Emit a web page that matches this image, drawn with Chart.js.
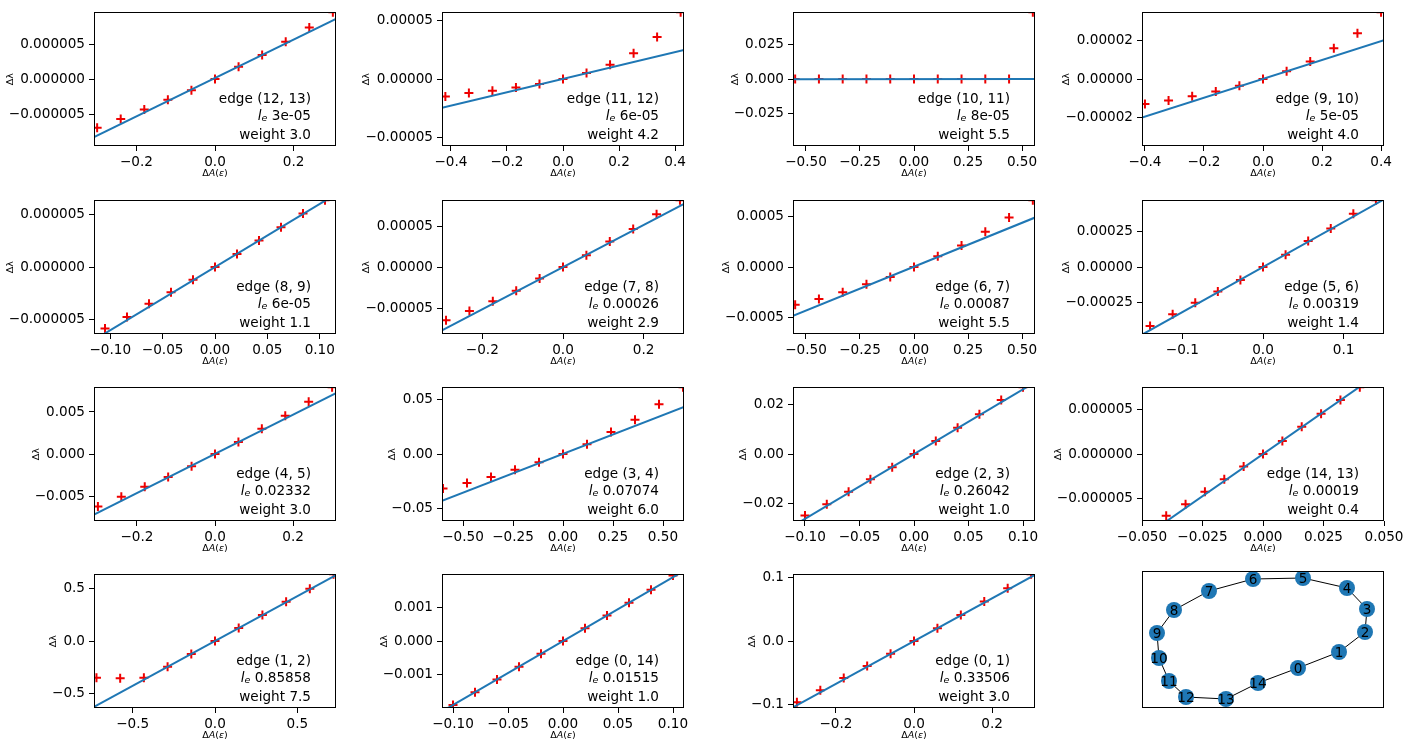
<!DOCTYPE html>
<html>
<head>
<meta charset="utf-8">
<script src="https://cdn.jsdelivr.net/npm/chart.js@4.4.0/dist/chart.umd.min.js"></script>
<style>
  body { margin: 0; background: #fff; width: 1411px; height: 741px; overflow: hidden; position: relative; }
  canvas { position: absolute; }
</style>
</head>
<body>
<script>
// one entry per subplot (grid order, left to right, top to bottom)
const edgeNames = ['(12, 13)', '(11, 12)', '(10, 11)', '(9, 10)', '(8, 9)', '(7, 8)', '(6, 7)', '(5, 6)',
                   '(4, 5)', '(3, 4)', '(2, 3)', '(14, 13)', '(1, 2)', '(0, 14)', '(0, 1)'];
const lengths = ['3e-05', '6e-05', '8e-05', '5e-05', '6e-05', '0.00026', '0.00087', '0.00319',
                 '0.02332', '0.07074', '0.26042', '0.00019', '0.85858', '0.01515', '0.33506'];
const weights = ['3.0', '4.2', '5.5', '4.0', '1.1', '2.9', '5.5', '1.4', '3.0', '6.0', '1.0', '0.4', '7.5', '1.0', '3.0'];

// red "+" measurements
const pointX = [
  [-0.30, -0.24, -0.18, -0.12, -0.06, 0, 0.06, 0.12, 0.18, 0.24, 0.30],
  [-0.42, -0.336, -0.252, -0.168, -0.084, 0, 0.084, 0.168, 0.252, 0.336, 0.42],
  [-0.55, -0.44, -0.33, -0.22, -0.11, 0, 0.11, 0.22, 0.33, 0.44, 0.55],
  [-0.40, -0.32, -0.24, -0.16, -0.08, 0, 0.08, 0.16, 0.24, 0.32, 0.40],
  [-0.105, -0.084, -0.063, -0.042, -0.021, 0, 0.021, 0.042, 0.063, 0.084, 0.105],
  [-0.29, -0.232, -0.174, -0.116, -0.058, 0, 0.058, 0.116, 0.174, 0.232, 0.29],
  [-0.55, -0.44, -0.33, -0.22, -0.11, 0, 0.11, 0.22, 0.33, 0.44, 0.55],
  [-0.14, -0.112, -0.084, -0.056, -0.028, 0, 0.028, 0.056, 0.084, 0.112, 0.14],
  [-0.30, -0.24, -0.18, -0.12, -0.06, 0, 0.06, 0.12, 0.18, 0.24, 0.30],
  [-0.60, -0.48, -0.36, -0.24, -0.12, 0, 0.12, 0.24, 0.36, 0.48, 0.60],
  [-0.10, -0.08, -0.06, -0.04, -0.02, 0, 0.02, 0.04, 0.06, 0.08, 0.10],
  [-0.04, -0.032, -0.024, -0.016, -0.008, 0, 0.008, 0.016, 0.024, 0.032, 0.04],
  [-0.72, -0.576, -0.432, -0.288, -0.144, 0, 0.144, 0.288, 0.432, 0.576, 0.72],
  [-0.10, -0.08, -0.06, -0.04, -0.02, 0, 0.02, 0.04, 0.06, 0.08, 0.10],
  [-0.30, -0.24, -0.18, -0.12, -0.06, 0, 0.06, 0.12, 0.18, 0.24, 0.30]
];
const pointY = [
  [-6.96e-6, -5.7e-6, -4.35e-6, -2.96e-6, -1.6e-6, 0, 1.75e-6, 3.46e-6, 5.33e-6, 7.37e-6, 9.57e-6],
  [-1.48e-5, -1.2e-5, -1.0e-5, -0.73e-5, -0.42e-5, 0, 0.53e-5, 1.23e-5, 2.2e-5, 3.6e-5, 5.72e-5],
  [0, 0, 0, 0, 0, 0, 0, 0, 0, 0, 0.0487],
  [-1.28e-5, -1.10e-5, -0.89e-5, -0.64e-5, -0.34e-5, 0, 0.41e-5, 0.91e-5, 1.59e-5, 2.36e-5, 3.45e-5],
  [-5.81e-6, -4.72e-6, -3.48e-6, -2.39e-6, -1.21e-6, 0, 1.24e-6, 2.52e-6, 3.76e-6, 5.06e-6, 6.33e-6],
  [-6.48e-5, -5.36e-5, -4.16e-5, -2.88e-5, -1.4e-5, 0, 1.44e-5, 3.12e-5, 4.64e-5, 6.44e-5, 8.15e-5],
  [-3.71e-4, -3.13e-4, -2.48e-4, -1.68e-4, -0.97e-4, 0, 1.06e-4, 2.13e-4, 3.48e-4, 4.87e-4, 6.58e-4],
  [-4.19e-4, -3.35e-4, -2.54e-4, -1.74e-4, -0.91e-4, 0, 0.88e-4, 1.86e-4, 2.74e-4, 3.79e-4, 4.75e-4],
  [-6.22e-3, -5.06e-3, -3.89e-3, -2.72e-3, -1.44e-3, 0, 1.44e-3, 3.0e-3, 4.55e-3, 6.22e-3, 7.95e-3],
  [-0.0315, -0.0264, -0.021, -0.0144, -0.0075, 0, 0.009, 0.0201, 0.0315, 0.0456, 0.0612],
  [-0.0248, -0.0202, -0.0152, -0.0102, -0.0053, 0, 0.0053, 0.0106, 0.0161, 0.0218, 0.027],
  [-6.96e-6, -5.66e-6, -4.26e-6, -2.85e-6, -1.41e-6, 0, 1.48e-6, 3.07e-6, 4.55e-6, 6.1e-6, 7.55e-6],
  [-0.35, -0.355, -0.35, -0.245, -0.123, 0, 0.124, 0.25, 0.375, 0.5, 0.64],
  [-0.0019, -0.00152, -0.00114, -0.00076, -0.00038, 0, 0.00038, 0.00076, 0.00114, 0.00153, 0.00195],
  [-0.096, -0.077, -0.058, -0.039, -0.02, 0, 0.02, 0.041, 0.062, 0.083, 0.105]
];
// blue fitted line, y at the left and right ends of the x range
const lineEnds = [
  [-8.3e-6, 8.6e-6], [-2.46e-5, 2.48e-5], [-4.5e-5, 4.5e-5], [-1.98e-5, 2.0e-5], [-6.9e-6, 6.9e-6],
  [-7.7e-5, 7.7e-5], [-4.8e-4, 4.87e-4], [-4.8e-4, 4.8e-4], [-7.2e-3, 7.25e-3], [-0.0428, 0.0432],
  [-0.029, 0.029], [-9.5e-6, 9.5e-6], [-0.63, 0.63], [-0.00209, 0.00209], [-0.104, 0.104]
];
// axis half ranges (axes are symmetric about zero)
const xHalf = [0.308, 0.432, 0.56, 0.41, 0.1155, 0.3, 0.56, 0.15, 0.31, 0.605, 0.111, 0.05, 0.735, 0.11, 0.31];
const yHalf = [9.57e-6, 5.72e-5, 0.0487, 3.45e-5, 6.33e-6, 8.15e-5, 6.58e-4, 4.75e-4, 7.95e-3, 0.0612, 0.027, 7.55e-6, 0.64, 0.00199, 0.105];
// tick values and the decimals used in their labels
const xTicks = [
  [-0.2, 0, 0.2], [-0.4, -0.2, 0, 0.2, 0.4], [-0.5, -0.25, 0, 0.25, 0.5], [-0.4, -0.2, 0, 0.2, 0.4],
  [-0.1, -0.05, 0, 0.05, 0.1], [-0.2, 0, 0.2], [-0.5, -0.25, 0, 0.25, 0.5], [-0.1, 0, 0.1],
  [-0.2, 0, 0.2], [-0.5, -0.25, 0, 0.25, 0.5], [-0.1, -0.05, 0, 0.05, 0.1], [-0.05, -0.025, 0, 0.025, 0.05],
  [-0.5, 0, 0.5], [-0.1, -0.05, 0, 0.05, 0.1], [-0.2, 0, 0.2]
];
const xDigits = [1, 1, 2, 1, 2, 1, 2, 1, 1, 2, 2, 3, 1, 2, 1];
const yTicks = [
  [-5e-6, 0, 5e-6], [-5e-5, 0, 5e-5], [-0.025, 0, 0.025], [-2e-5, 0, 2e-5], [-5e-6, 0, 5e-6],
  [-5e-5, 0, 5e-5], [-5e-4, 0, 5e-4], [-2.5e-4, 0, 2.5e-4], [-0.005, 0, 0.005], [-0.05, 0, 0.05],
  [-0.02, 0, 0.02], [-5e-6, 0, 5e-6], [-0.5, 0, 0.5], [-0.001, 0, 0.001], [-0.1, 0, 0.1]
];
const yDigits = [6, 5, 3, 5, 6, 5, 4, 5, 3, 2, 2, 6, 1, 3, 1];

// graph drawing in the last cell: node positions and the ring of edges
const nodeX = [156, 197, 223, 225, 205, 161, 111, 67, 32, 15, 17, 27, 44, 84, 116];
const nodeY = [40, 56, 76, 99, 120, 130, 129, 117, 98, 75, 50, 27, 11, 9, 25];
const ringOrder = [0, 1, 2, 3, 4, 5, 6, 7, 8, 9, 10, 11, 12, 13, 14, 0];

const FONT = '"DejaVu Sans", sans-serif';
const plotLefts = [94, 442, 793, 1142];
const plotTops = [9, 197, 384, 571];
const PW = 242, PH = 137, YW = 94, PADTOP = 9;
const CW = 380, CH = 186;

function fmt(v, d) {
  let s = Math.abs(v) < 1e-12 ? (0).toFixed(d) : v.toFixed(d);
  return s.replace('-', '\u2212');
}

// draw text made of runs [text, size, italic, dy]
function drawRuns(ctx, runs, x, y, align) {
  let total = 0;
  const widths = runs.map(r => {
    ctx.font = (r[2] ? 'italic ' : '') + r[1] + 'px ' + FONT;
    const w = ctx.measureText(r[0]).width;
    total += w;
    return w;
  });
  let cx = align === 'right' ? x - total : align === 'center' ? x - total / 2 : x;
  runs.forEach((r, i) => {
    ctx.font = (r[2] ? 'italic ' : '') + r[1] + 'px ' + FONT;
    ctx.fillText(r[0], cx, y + (r[3] || 0));
    cx += widths[i];
  });
}

const decor = {
  id: 'decor',
  afterDraw(chart) {
    const o = chart.options.plugins.decor;
    if (!o) return;
    const ctx = chart.ctx, a = chart.chartArea;
    ctx.save();
    ctx.strokeStyle = '#000';
    ctx.lineWidth = 1;
    ctx.strokeRect(Math.round(a.left) + 0.5, Math.round(a.top) + 0.5, Math.round(a.width) - 1, Math.round(a.height) - 1);
    ctx.fillStyle = '#000';
    ctx.textBaseline = 'middle';
    ctx.textAlign = 'left';
    if (o.graph) {
      const xs = chart.scales.x, ys = chart.scales.y;
      nodeX.forEach((nx, i) => {
        drawRuns(ctx, [[String(i), 13.6]], xs.getPixelForValue(nx), ys.getPixelForValue(nodeY[i]) + 1, 'center');
      });
    } else {
      drawRuns(ctx, [['\u0394', 9.5], ['A', 9.5, true], ['(', 9.5], ['\u03b5', 9.5, true], [')', 9.5]],
        (a.left + a.right) / 2, a.bottom + 28, 'center');
      ctx.font = '13.6px ' + FONT;
      const zw = ctx.measureText(o.zeroLabel).width;
      ctx.save();
      ctx.translate(a.left - 9 - zw - 10, (a.top + a.bottom) / 2);
      ctx.rotate(-Math.PI / 2);
      drawRuns(ctx, [['\u0394\u03bb', 9.5]], 0, 0, 'center');
      ctx.restore();
      const rx = a.right - 25;
      drawRuns(ctx, [['edge ' + o.edge, 13.6]], rx, a.bottom - 47, 'right');
      drawRuns(ctx, [['l', 13.6, true], ['e', 9.5, true, 3], [' ' + o.le, 13.6]], rx, a.bottom - 30, 'right');
      drawRuns(ctx, [['weight ' + o.weight, 13.6]], rx, a.bottom - 11, 'right');
    }
    ctx.restore();
  }
};

function makeCanvas(left, top, w, h) {
  const c = document.createElement('canvas');
  c.width = w; c.height = h;
  c.style.left = left + 'px';
  c.style.top = top + 'px';
  c.style.width = w + 'px';
  c.style.height = h + 'px';
  document.body.appendChild(c);
  return c;
}

function axis(ticks, digits, half, isX) {
  return {
    type: 'linear',
    min: -half,
    max: half,
    afterBuildTicks: s => { s.ticks = ticks.map(v => ({ value: v })); },
    afterFit: s => { if (isX) s.height = CH - PADTOP - PH; else s.width = YW; },
    ticks: {
      autoSkip: false,
      maxRotation: 0,
      padding: isX ? 3 : 4,
      color: '#000',
      font: { family: FONT, size: 13.6 },
      callback: v => fmt(v, digits)
    },
    grid: { drawOnChartArea: false, drawTicks: true, tickLength: 5, color: '#000', lineWidth: 1 },
    border: { display: false }
  };
}

for (let i = 0; i < edgeNames.length; i++) {
  const col = i % 4, row = Math.floor(i / 4);
  const c = makeCanvas(plotLefts[col] - YW, plotTops[row] - PADTOP, CW, CH);
  const pts = pointX[i].map((x, k) => ({ x: x, y: pointY[i][k] }));
  const line = [{ x: -xHalf[i], y: lineEnds[i][0] }, { x: xHalf[i], y: lineEnds[i][1] }];
  new Chart(c.getContext('2d'), {
    type: 'scatter',
    data: {
      datasets: [
        { data: line, showLine: true, borderColor: '#1f77b4', borderWidth: 2, pointRadius: 0, clip: 0 },
        { data: pts, pointStyle: 'cross', pointRadius: 4.5, borderColor: '#ee0000', pointBorderWidth: 2, clip: 0 }
      ]
    },
    options: {
      responsive: false,
      animation: false,
      devicePixelRatio: 1,
      layout: { autoPadding: false, padding: { top: PADTOP, right: CW - YW - PW, left: 0, bottom: 0 } },
      scales: {
        x: axis(xTicks[i], xDigits[i], xHalf[i], true),
        y: axis(yTicks[i], yDigits[i], yHalf[i], false)
      },
      plugins: {
        legend: { display: false },
        tooltip: { enabled: false },
        decor: { edge: edgeNames[i], le: lengths[i], weight: weights[i], zeroLabel: fmt(0, yDigits[i]) }
      }
    },
    plugins: [decor]
  });
}

// graph panel
{
  const c = makeCanvas(plotLefts[3], plotTops[3], PW, PH);
  const nodes = nodeX.map((x, k) => ({ x: x, y: nodeY[k] }));
  const ring = ringOrder.map(k => ({ x: nodeX[k], y: nodeY[k] }));
  new Chart(c.getContext('2d'), {
    type: 'scatter',
    data: {
      datasets: [
        { data: nodes, pointRadius: 8, backgroundColor: '#1f77b4', borderColor: '#1f77b4', pointBorderWidth: 0 },
        { data: ring, showLine: true, borderColor: '#000', borderWidth: 1, pointRadius: 0 }
      ]
    },
    options: {
      responsive: false,
      animation: false,
      devicePixelRatio: 1,
      layout: { autoPadding: false, padding: 0 },
      scales: {
        x: { type: 'linear', min: 0, max: PW, display: false },
        y: { type: 'linear', min: 0, max: PH, display: false }
      },
      plugins: { legend: { display: false }, tooltip: { enabled: false }, decor: { graph: true } }
    },
    plugins: [decor]
  });
}
</script>
</body>
</html>
